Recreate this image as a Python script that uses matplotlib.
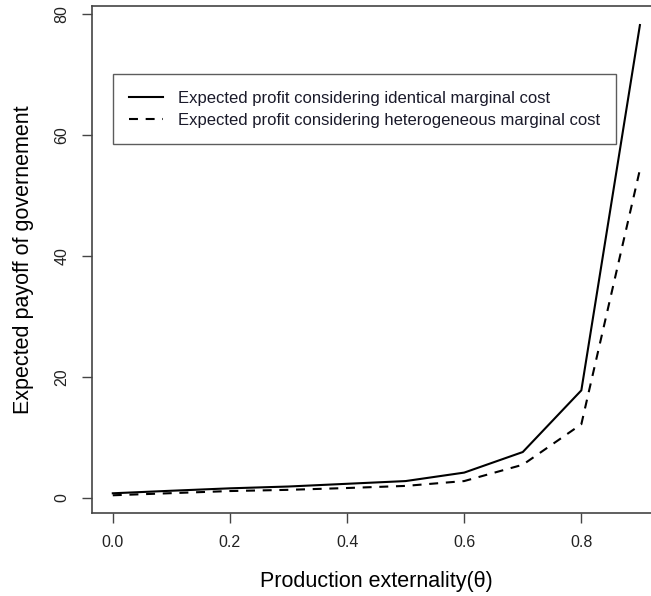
import matplotlib
matplotlib.use("Agg")
import matplotlib.pyplot as plt

# Data
theta = [0.0, 0.1, 0.2, 0.3, 0.4, 0.5, 0.6, 0.7, 0.8, 0.9]
identical_cost = [0.78, 1.2, 1.6, 1.9, 2.35, 2.8, 4.2, 7.6, 17.8, 78.2]
heterogeneous_cost = [0.45, 0.8, 1.15, 1.35, 1.65, 2.0, 2.8, 5.5, 12.2, 54.3]

x_ticks = [0.0, 0.2, 0.4, 0.6, 0.8]
y_ticks = [0, 20, 40, 60, 80]

plt.rcParams["font.family"] = ["Liberation Sans", "DejaVu Sans"]

W, H = 651, 596
fig = plt.figure(figsize=(W / 100, H / 100), dpi=100)

# axes box in pixels (right edge runs past the image, as in the reference)
left, right, top, bottom = 91.7, 661.0, 5.7, 513.0
ax = fig.add_axes([left / W, 1 - bottom / H, (right - left) / W, (bottom - top) / H])

ax.plot(theta, identical_cost, color="black", lw=1.5,
        label="Expected profit considering identical marginal cost")
ax.plot(theta, heterogeneous_cost, color="black", lw=1.5, linestyle=(0, (4.3, 3.7)),
        label="Expected profit considering heterogeneous marginal cost")

ax.set_xlim(-0.036, 0.936)
ax.set_ylim(-2.48, 81.4)
ax.set_xticks(x_ticks)
ax.set_xticklabels([f"{t:.1f}" for t in x_ticks])
ax.set_yticks(y_ticks)
ax.set_yticklabels([str(t) for t in y_ticks], rotation=90, va="center")

for side in ["left", "bottom", "top", "right"]:
    ax.spines[side].set_color("#444444")
    ax.spines[side].set_linewidth(1.2)
ax.tick_params(length=7, width=1.0, color="#444444", labelsize=11.5,
               labelcolor="#222222", pad=9)

ax.set_xlabel("Production externality(θ)", fontsize=15.5, va="center")
ax.xaxis.set_label_coords(0.5, (bottom - 581) / (bottom - top))
ax.set_ylabel("Expected payoff of governement", fontsize=15.5, va="center")
ax.yaxis.set_label_coords((23 - left) / (right - left), 0.5)

leg = ax.legend(loc="upper left",
                bbox_to_anchor=(112.7 / W, 1 - 74.3 / H),
                bbox_transform=fig.transFigure,
                borderaxespad=0, fontsize=12, frameon=True, fancybox=False,
                edgecolor="#333333", handlelength=2.0, handletextpad=0.9,
                borderpad=1.0, labelspacing=0.4)
leg.get_frame().set_linewidth(1.0)
for t in leg.get_texts():
    t.set_color("#1a1a2a")

fig.savefig("out.png", dpi=100)
